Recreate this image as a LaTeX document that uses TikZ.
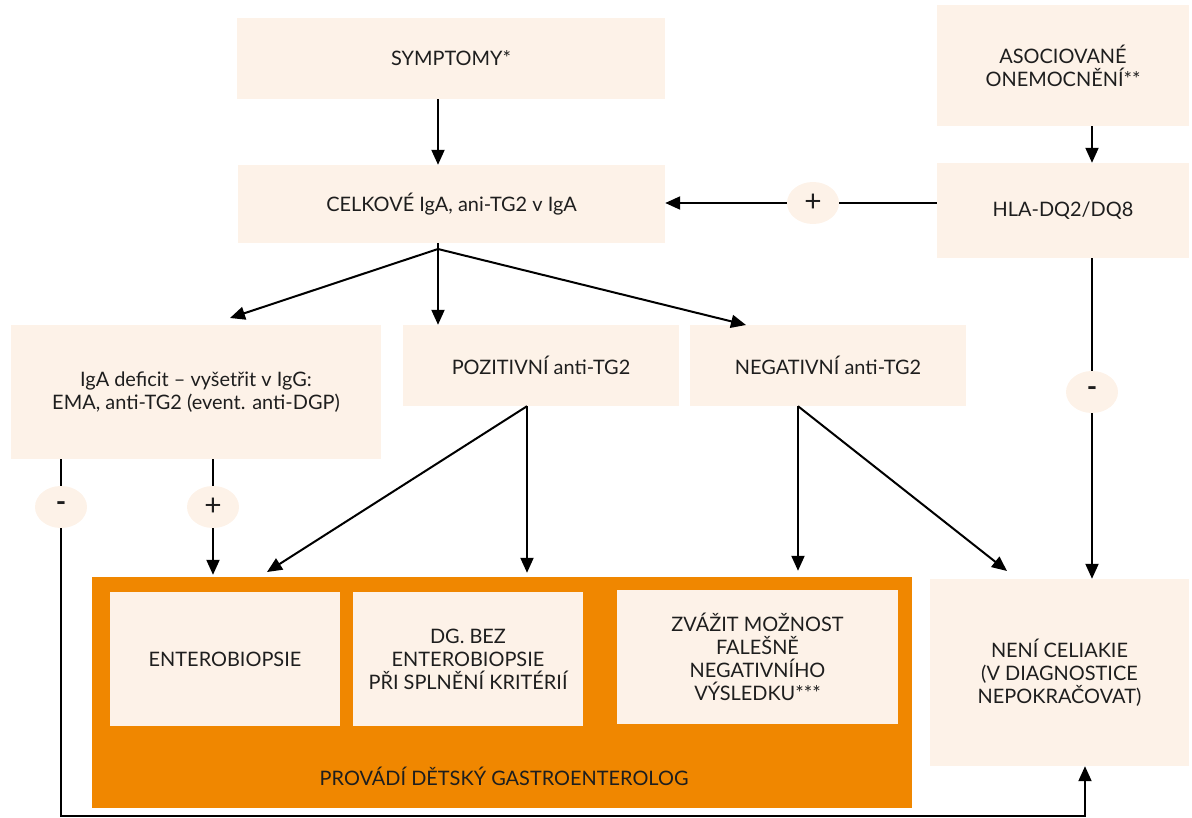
\documentclass[tikz,border=0pt]{standalone}
\usepackage{fontspec}
\setmainfont{Lato}
\usetikzlibrary{arrows.meta,shapes.geometric}
\definecolor{boxfill}{RGB}{253,242,232}
\definecolor{orng}{RGB}{240,135,0}
\definecolor{txt}{RGB}{30,30,30}
\begin{document}
\begin{tikzpicture}[x=1bp,y=-1bp,
  box/.style={fill=boxfill, draw=none, align=center, inner sep=0pt, text=txt, font=\fontsize{20}{23}\selectfont},
  sign/.style={ellipse, fill=boxfill, minimum width=52bp, minimum height=42bp, inner sep=0pt, text=txt, font=\fontsize{28}{28}\selectfont},
  arr/.style={line width=2bp, -{Triangle[length=15bp,width=13bp]}},
  ln/.style={line width=2bp}]
\useasboundingbox (0,0) rectangle (1192,818);
% boxes
\node[box, minimum width=428bp, minimum height=81bp] (sym) at (451,58.5) {SYMPTOMY*};
\node[box, minimum width=252bp, minimum height=121bp] (asoc) at (1063,65.5) {ASOCIOVANÉ\\ONEMOCNĚNÍ**};
\node[box, minimum width=427bp, minimum height=78bp] (celk) at (451.5,204) {CELKOVÉ IgA, ani-TG2 v IgA};
\node[box, minimum width=252bp, minimum height=95bp] (hla) at (1063,210.5) {HLA-DQ2/DQ8};
\node[box, minimum width=370bp, minimum height=134bp] (iga) at (196,392) {IgA deficit – vyšetřit v IgG:\\EMA, anti-TG2 (event. anti-DGP)};
\node[box, minimum width=276bp, minimum height=81bp] (poz) at (541,365.5) {POZITIVNÍ anti-TG2};
\node[box, minimum width=276bp, minimum height=81bp] (neg) at (828,365.5) {NEGATIVNÍ anti-TG2};
\node[fill=orng, draw=none, minimum width=820bp, minimum height=231bp, inner sep=0pt] (ped) at (502,692.5) {};
\node[box, minimum width=230bp, minimum height=134bp] (ent) at (225,659) {ENTEROBIOPSIE};
\node[box, minimum width=230bp, minimum height=134bp] (dg) at (468,659) {DG. BEZ\\ENTEROBIOPSIE\\PŘI SPLNĚNÍ KRITÉRIÍ};
\node[box, minimum width=281bp, minimum height=134bp] (zv) at (757.5,657) {ZVÁŽIT MOŽNOST\\FALEŠNĚ\\NEGATIVNÍHO\\VÝSLEDKU***};
\node[box, minimum width=259bp, minimum height=187bp] (neni) at (1059.5,672.5) {NENÍ CELIAKIE\\(V DIAGNOSTICE\\NEPOKRAČOVAT)};
\node[text=txt, font=\fontsize{20}{23}\selectfont, inner sep=0pt] (pedlbl) at (504,776) {PROVÁDÍ DĚTSKÝ GASTROENTEROLOG};
% signs
\node[sign] (splus) at (813,203) {\fontsize{30}{30}\selectfont\raisebox{0.5bp}{+}};
\node[sign] (hminus) at (1092,392) {\textbf{-}};
\node[sign] (iminus) at (61,507) {\textbf{-}};
\node[sign] (iplus) at (213,507) {\fontsize{30}{30}\selectfont\raisebox{0.5bp}{+}};
% helper coordinates
\coordinate (c438) at (438,0);
\coordinate (c1092) at (1092,0);
\coordinate (br) at (438,249);
\coordinate (tl) at (230,318);
\coordinate (tr) at (746,325);
\coordinate (c527) at (527,0);
\coordinate (c798) at (798,0);
\coordinate (pl) at (267,572);
\coordinate (nr) at (1007,571);
\coordinate (lb) at (61,816);
\coordinate (rb) at (1085,816);
% connectors
\draw[arr] (sym.south -| c438) -- (celk.north -| c438);
\draw[arr] (asoc.south -| c1092) -- (hla.north -| c1092);
\draw[ln] (hla.west |- splus) -- (splus);
\draw[arr] (splus) -- (celk.east |- splus);
\draw[ln] (celk.south -| br) -- (br);
\draw[arr] (br) -- (tl);
\draw[arr] (br) -- (poz.north -| br);
\draw[arr] (br) -- (tr);
\draw[ln] (hla.south -| c1092) -- (hminus);
\draw[arr] (hminus) -- (neni.north -| c1092);
\draw[arr, shorten >=4bp] (poz.south -| c527) -- (ped.north -| c527);
\draw[arr] (poz.south -| c527) -- (pl);
\draw[arr, shorten >=6bp] (neg.south -| c798) -- (ped.north -| c798);
\draw[arr] (neg.south -| c798) -- (nr);
\draw[ln] (iga.south -| iplus) -- (iplus);
\draw[arr, shorten >=2bp] (iplus) -- (ped.north -| iplus);
\draw[ln] (iga.south -| iminus) -- (iminus);
\draw[arr] (iminus) -- (lb) -- (rb) -- (neni.south -| rb);
\end{tikzpicture}
\end{document}
